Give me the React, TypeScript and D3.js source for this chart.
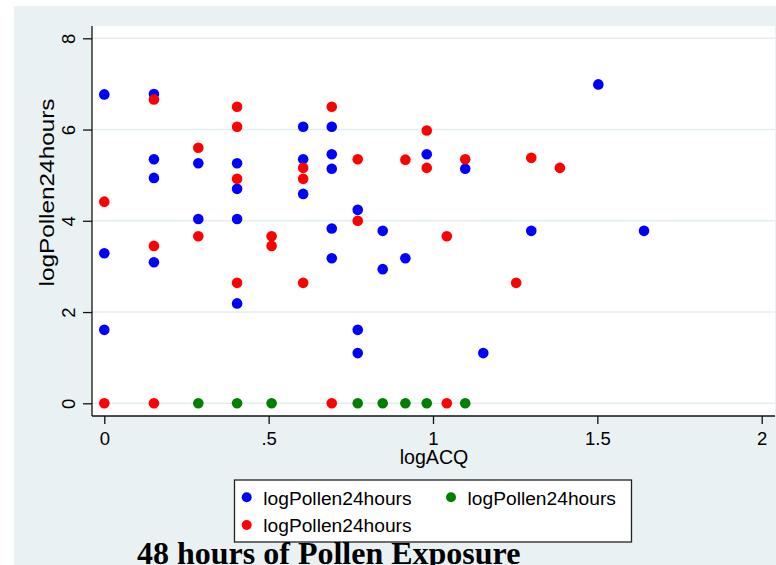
import * as d3 from "d3";
import { useRef, useEffect } from "react";

// logACQ vs logPollen24hours, three groups
const bluePoints: [number, number][] = [
  [0, 6.77], [0, 3.29], [0, 1.61],
  [0.151, 6.78], [0.151, 5.35], [0.151, 4.94], [0.151, 3.09],
  [0.286, 5.26], [0.286, 4.04],
  [0.404, 5.26], [0.404, 4.7], [0.404, 4.04], [0.404, 2.19],
  [0.605, 6.06], [0.605, 5.35], [0.605, 4.59],
  [0.692, 6.06], [0.692, 5.46], [0.692, 5.14], [0.692, 3.83], [0.692, 3.18],
  [0.771, 4.24], [0.771, 1.61], [0.771, 1.1],
  [0.847, 3.78], [0.847, 2.94],
  [0.916, 3.18],
  [0.981, 5.46],
  [1.098, 5.14],
  [1.153, 1.1],
  [1.299, 3.78],
  [1.503, 6.99],
  [1.642, 3.78],
];

const greenPoints: [number, number][] = [
  [0.286, 0], [0.404, 0], [0.509, 0], [0.771, 0],
  [0.847, 0], [0.916, 0], [0.981, 0], [1.098, 0],
];

const redPoints: [number, number][] = [
  [0, 4.42], [0, 0],
  [0.151, 6.66], [0.151, 3.45], [0.151, 0],
  [0.286, 5.6], [0.286, 3.66],
  [0.404, 6.5], [0.404, 6.06], [0.404, 4.92], [0.404, 2.64],
  [0.509, 3.66], [0.509, 3.45],
  [0.605, 5.16], [0.605, 4.92], [0.605, 2.64],
  [0.692, 6.5], [0.692, 0],
  [0.771, 5.35], [0.771, 4.0],
  [0.916, 5.34],
  [0.981, 5.98], [0.981, 5.16],
  [1.042, 3.66], [1.042, 0],
  [1.098, 5.35],
  [1.253, 2.64],
  [1.299, 5.38],
  [1.386, 5.16],
];

const xTicks = [0, 0.5, 1, 1.5, 2];
const xTickLabels = ["0", ".5", "1", "1.5", "2"];
const yTicks = [0, 2, 4, 6, 8];

const seriesNames = ["logPollen24hours", "logPollen24hours", "logPollen24hours"];
const seriesColours = ["#0000ff", "#008000", "#ff0000"];

const width = 776;
const height = 565;
const font = "'Liberation Sans', Arial, sans-serif";

export default function App() {
  const chartRef = useRef<SVGSVGElement>(null);

  useEffect(() => {
    const svg = d3.select(chartRef.current);
    svg.selectAll("*").remove();

    const plot = { left: 92, right: 775, top: 26, bottom: 416 };

    const x = d3.scaleLinear().domain([0, 2]).range([104.3, 761.7]);
    const y = d3.scaleLinear().domain([0, 8]).range([403.3, 38.3]);

    // background panel + white plot region
    svg.append("rect").attr("x", 14).attr("y", 6).attr("width", width - 14).attr("height", height - 6).attr("fill", "#eaf1f3");
    svg
      .append("rect")
      .attr("x", plot.left)
      .attr("y", plot.top)
      .attr("width", plot.right - plot.left)
      .attr("height", plot.bottom - plot.top)
      .attr("fill", "#ffffff");

    // grid
    svg
      .append("g")
      .selectAll("line")
      .data(yTicks)
      .join("line")
      .attr("x1", plot.left)
      .attr("x2", plot.right)
      .attr("y1", (d) => y(d))
      .attr("y2", (d) => y(d))
      .attr("stroke", "#e4edf0")
      .attr("stroke-width", 1.5);

    // axes
    const yAxis = svg
      .append("g")
      .attr("transform", `translate(${plot.left},0)`)
      .call(d3.axisLeft(y).tickValues(yTicks).tickSize(9).tickSizeOuter(0));
    yAxis.select(".domain").remove();
    yAxis.selectAll(".tick line").attr("stroke", "#111").attr("stroke-width", 1.3);
    yAxis
      .selectAll(".tick text")
      .attr("transform", "rotate(-90)")
      .attr("x", 0)
      .attr("y", -17)
      .attr("dy", 0)
      .attr("text-anchor", "middle")
      .attr("fill", "#000")
      .style("font-family", font)
      .style("font-size", "18.5px");

    const xAxis = svg
      .append("g")
      .attr("transform", `translate(0,${plot.bottom})`)
      .call(
        d3
          .axisBottom(x)
          .tickValues(xTicks)
          .tickFormat((d, i) => xTickLabels[i])
          .tickSize(8)
          .tickSizeOuter(0),
      );
    xAxis.select(".domain").remove();
    xAxis.selectAll(".tick line").attr("stroke", "#111").attr("stroke-width", 1.3);
    xAxis
      .selectAll(".tick text")
      .attr("y", 29)
      .attr("dy", 0)
      .attr("fill", "#000")
      .style("font-family", font)
      .style("font-size", "18.5px");

    svg
      .append("line")
      .attr("x1", plot.left)
      .attr("x2", plot.left)
      .attr("y1", plot.top)
      .attr("y2", plot.bottom)
      .attr("stroke", "#111")
      .attr("stroke-width", 1.3);
    svg
      .append("line")
      .attr("x1", plot.left)
      .attr("x2", plot.right)
      .attr("y1", plot.bottom)
      .attr("y2", plot.bottom)
      .attr("stroke", "#111")
      .attr("stroke-width", 1.3);

    // axis titles
    svg
      .append("text")
      .attr("transform", `translate(53.5,192.5) rotate(-90)`)
      .attr("text-anchor", "middle")
      .attr("textLength", 188)
      .attr("lengthAdjust", "spacingAndGlyphs")
      .style("font-family", font)
      .style("font-size", "20px")
      .text("logPollen24hours");
    svg
      .append("text")
      .attr("x", 434)
      .attr("y", 463.5)
      .attr("text-anchor", "middle")
      .style("font-family", font)
      .style("font-size", "19.6px")
      .text("logACQ");

    // points: blue, green, red in drawing order
    [bluePoints, greenPoints, redPoints].forEach((pts, i) => {
      svg
        .append("g")
        .selectAll("circle")
        .data(pts)
        .join("circle")
        .attr("cx", (d) => x(d[0]))
        .attr("cy", (d) => y(d[1]))
        .attr("r", 5.3)
        .attr("fill", seriesColours[i]);
    });

    // legend
    const legend = svg.append("g");
    legend
      .append("rect")
      .attr("x", 234.5)
      .attr("y", 480)
      .attr("width", 397)
      .attr("height", 62)
      .attr("fill", "#ffffff")
      .attr("stroke", "#222")
      .attr("stroke-width", 1.3);
    const entries = [
      { cx: 246.7, cy: 497.3 },
      { cx: 451, cy: 497.3 },
      { cx: 246.7, cy: 525 },
    ];
    entries.forEach((e, i) => {
      legend.append("circle").attr("cx", e.cx).attr("cy", e.cy).attr("r", 5).attr("fill", seriesColours[i]);
      legend
        .append("text")
        .attr("x", e.cx + 16.6)
        .attr("y", e.cy + 7.2)
        .style("font-family", font)
        .style("font-size", "19.2px")
        .text(seriesNames[i]);
    });

    // title
    svg
      .append("text")
      .attr("x", 328.7)
      .attr("y", 564)
      .attr("text-anchor", "middle")
      .style("font-family", "'Liberation Serif', 'Times New Roman', serif")
      .style("font-weight", "bold")
      .style("font-size", "32px")
      .text("48 hours of Pollen Exposure");
  }, []);

  return (
    <svg
      ref={chartRef}
      width={width}
      height={height}
      viewBox={`0 0 ${width} ${height}`}
      style={{ position: "absolute", left: 0, top: 0, display: "block" }}
    />
  );
}
